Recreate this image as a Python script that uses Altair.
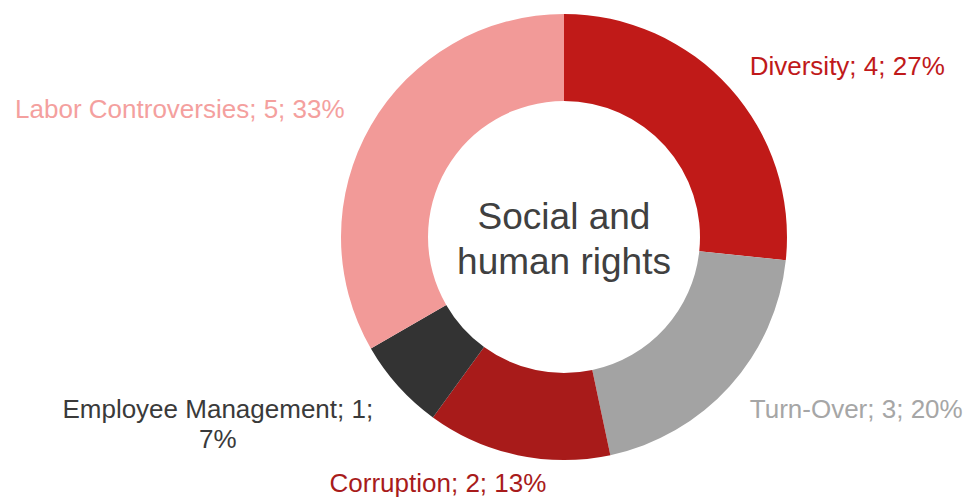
import altair as alt
import pandas as pd

categories = ["Diversity", "Turn-Over", "Corruption", "Employee Management", "Labor Controversies"]
values = [4, 3, 2, 1, 5]
percents = [27, 20, 13, 7, 33]
slice_colors = ["#C01A18", "#A3A3A3", "#A81B1A", "#333333", "#F29A98"]
label_colors = ["#C0191A", "#A6A6A6", "#A81B1B", "#3A3A3A", "#F4A09E"]
center_title = "Social and\nhuman rights"

labels = []
for c, v, p in zip(categories, values, percents):
    if c == "Employee Management":
        labels.append(f"{c}; {v};\n{p}%")
    else:
        labels.append(f"{c}; {v}; {p}%")

df = pd.DataFrame({
    "category": categories,
    "value": values,
    "label": labels,
    "idx": list(range(len(categories))),
})
total = sum(values)

CX, CY = 556, 229
FONT = "Liberation Sans"

base = alt.Chart(df)

arcs = base.mark_arc(outerRadius=223, innerRadius=136).encode(
    theta=alt.Theta("value:Q", stack=True, scale=alt.Scale(domain=[0, total])),
    order=alt.Order("idx:Q"),
    color=alt.Color("category:N", scale=alt.Scale(domain=categories, range=slice_colors), legend=None),
    x=alt.value(CX),
    y=alt.value(CY),
)

# label offsets (dx, dy) from polar anchor at radius 260
offsets = {
    "Diversity": (90, 4),
    "Turn-Over": (99, -1),
    "Corruption": (-72, -7),
    "Employee Management": (-153, -1),
    "Labor Controversies": (-159, 3),
}

label_layers = []
for cat, col in zip(categories, label_colors):
    dx, dy = offsets[cat]
    lyr = base.transform_window(
        cum="sum(value)", sort=[{"field": "idx"}], frame=[None, 0]
    ).transform_calculate(
        mid="datum.cum - datum.value / 2"
    ).transform_filter(
        alt.datum.category == cat
    ).mark_text(
        radius=260, align="center", baseline="middle", dx=dx, dy=dy,
        font=FONT, fontSize=26, color=col, lineBreak="\n", lineHeight=30,
    ).encode(
        theta=alt.Theta("mid:Q", stack=None, scale=alt.Scale(domain=[0, total])),
        text="label:N",
        x=alt.value(CX),
        y=alt.value(CY),
    )
    label_layers.append(lyr)

center = alt.Chart(pd.DataFrame({"t": [center_title]})).mark_text(
    align="center", baseline="middle", font=FONT, fontSize=37, color="#404040",
    lineBreak="\n", lineHeight=45, dy=-19,
).encode(
    text="t:N",
    x=alt.value(CX),
    y=alt.value(CY),
)

chart = alt.layer(arcs, *label_layers, center).properties(
    width=955, height=489,
    autosize=alt.AutoSizeParams(type="none"),
    padding=0,
).configure(background="white", view=alt.ViewConfig(stroke=None))

chart.save("out.html", embed_options={"renderer": "svg", "actions": False})
